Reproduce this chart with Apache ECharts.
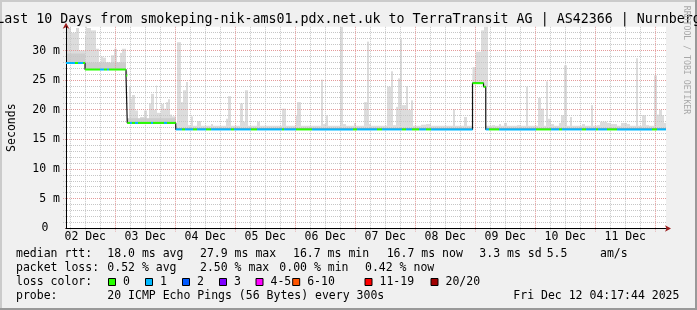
<!DOCTYPE html>
<html><head><meta charset="utf-8">
<script src="https://cdn.jsdelivr.net/npm/echarts@6/dist/echarts.min.js"></script>
<style>html,body{margin:0;padding:0;background:#f0f0f0;}#c{width:697px;height:310px;}</style>
</head><body><div id="c"></div>
<script>
// ---- time range (hours since 02 Dec 00:00) ----
const T0 = 4.2956, T1 = 244.2956;

// ---- x axis labels ----
const dayLabels = ['02 Dec','03 Dec','04 Dec','05 Dec','06 Dec','07 Dec','08 Dec','09 Dec','10 Dec','11 Dec'];
const dayLabelHours = [12, 36, 60, 84, 108, 132, 156, 180, 204, 228];

// ---- median rtt (ms), step segments ----
const medStart = [4.3, 11.9, 28.3, 28.8, 48.2, 166.9, 171.3, 172.2];
const medEnd   = [11.9, 28.3, 28.8, 48.2, 166.9, 171.3, 172.2, 244.3];
const medVal   = [27.9, 26.8, 25.8, 17.8, 16.7, 24.5, 23.9, 16.7];
const hazeTop  = [29.5, 28.0, 26.5, 18.6, 17.3, 26.0, 26.0, 17.3];
const hazeDark = [1, 1, 1, 1, 0, 0, 0, 0];

// ---- packet loss runs along the median (pings lost of 20) ----
const runStart = [4.3,7.9,9.1,11.1,11.9,17.9,19.5,20.7,21.5,28.3,28.8,29.9,30.7,31.9,33.1,38.3,39.1,43.5,44.7,48.2,50.7,51.9,55.1,56.7,60.3,62.3,70.3,71.5,78.3,80.7,90.7,91.5,96.3,102.7,119.1,120.7,128.7,130.7,138.7,140.3,142.7,145.5,148.3,150.3,166.9,171.3,172.2,173.5,177.5,192.3,198.3,201.5,202.7,210.7,212.3,216.3,217.1,220.7,224.7,238.7,240.7];
const runEnd   = [7.9,9.1,11.1,11.9,17.9,19.5,20.7,21.5,28.3,28.8,29.9,30.7,31.9,33.1,38.3,39.1,43.5,44.7,48.2,50.7,51.9,55.1,56.7,60.3,62.3,70.3,71.5,78.3,80.7,90.7,91.5,96.3,102.7,119.1,120.7,128.7,130.7,138.7,140.3,142.7,145.5,148.3,150.3,166.9,171.3,172.2,173.5,177.5,192.3,198.3,201.5,202.7,210.7,212.3,216.3,217.1,220.7,224.7,238.7,240.7,244.3];
const runLoss  = [1,0,1,0,0,1,0,1,0,0,0,1,0,1,0,1,0,1,0,1,0,1,0,1,0,1,0,1,0,1,0,1,0,1,0,1,0,1,0,1,0,1,0,1,0,0,1,0,1,0,1,0,1,0,1,0,1,0,1,0,1];

// ---- smoke (max ping rtt, ms) ----
const smokeStart = [4.3,6.3,8.3,9.5,11.9,12.3,12.7,14.3,16.3,17.5,18.3,19.1,20.3,21.5,22.3,23.5,24.7,25.9,26.7,
  29.5,30.3,30.7,31.9,33.1,33.9,35.5,36.7,37.5,38.3,39.5,40.3,40.7,42.3,43.5,44.3,45.1,45.9,46.7,
  48.7,50.3,51.1,52.3,53.1,54.3,56.7,62.3,68.3,69.1,73.9,75.1,75.9,80.7,90.7,96.3,96.7,106.3,107.1,108.3,113.9,115.1,119.5,
  123.5,124.7,125.5,132.7,134.3,135.1,136.3,137.1,137.9,138.7,140.3,141.1,142.3,146.3,148.3,159.1,163.5,
  166.9,168.3,170.3,171.5,174.7,177.5,179.5,184.7,188.3,193.1,194.3,196.3,197.1,198.3,201.5,202.3,203.5,205.9,
  210.7,214.3,216.7,217.9,220.7,221.9,226.3,228.7,232.3,234.7,236.3,239.5,240.7,241.5,242.7,243.5];
const smokeEnd = [6.3,8.3,9.5,11.9,12.3,12.7,14.3,16.3,17.5,18.3,19.1,20.3,21.5,22.3,23.5,24.7,25.9,26.7,28.3,
  30.3,30.7,31.9,33.1,33.9,35.5,36.7,37.5,38.3,39.5,40.3,40.7,42.3,43.5,44.3,45.1,45.9,46.7,48.2,
  50.3,51.1,52.3,53.1,54.3,55.1,58.3,63.1,69.1,70.3,75.1,75.9,77.1,81.9,92.3,96.7,98.3,107.1,108.3,109.1,115.1,116.3,120.3,
  124.7,125.5,126.3,134.3,135.1,136.3,137.1,137.9,138.7,140.3,141.1,142.3,143.1,148.3,150.3,159.9,164.7,
  168.3,170.3,171.5,173.1,175.9,178.3,180.7,186.3,189.1,194.3,195.5,197.1,198.3,199.5,202.3,203.5,204.7,206.7,
  211.9,215.1,217.9,220.7,221.9,224.7,228.7,229.9,233.1,236.3,237.5,240.7,241.5,242.7,243.5,244.3];
const smokeTop = [33.8,33.0,33.8,30.0,32.5,34.0,33.8,33.4,30.3,28.0,29.0,28.8,28.0,27.7,29.2,30.3,28.0,29.6,30.3,
  23.9,21.9,22.5,19.9,18.5,18.8,19.9,18.5,21.1,22.7,20.0,24.1,19.5,21.0,20.2,21.3,21.8,19.2,18.9,
  31.4,21.3,23.3,24.7,17.4,18.9,18.1,17.6,18.5,22.3,21.1,18.0,23.3,18.0,20.2,19.1,21.3,25.1,17.6,19.1,34.0,17.6,17.8,
  21.3,31.5,17.6,23.9,26.5,17.4,20.5,25.3,31.9,20.8,24.0,20.0,21.6,17.5,17.6,20.1,18.8,
  27.2,29.8,33.4,34.0,17.4,17.6,17.8,17.4,23.9,22.0,20.2,24.8,18.5,17.6,17.8,19.1,27.5,18.8,
  17.6,20.8,17.4,18.0,17.8,17.6,17.8,17.6,28.7,19.1,17.4,25.8,19.2,20.0,19.1,17.8];

// ---- legend / statistics text ----
const statRows = [
  [['median rtt:',16],['18.0 ms avg',107.3],['27.9 ms max',200],['16.7 ms min',293],['16.7 ms now',386.7],['3.3 ms sd',479.3],['5.5',546.7],['am/s',600]],
  [['packet loss:',16],['0.52 % avg',107.3],['2.50 % max',200],['0.00 % min',279.3],['0.42 % now',365]],
  [['loss color:',16]],
  [['probe:',16],['20 ICMP Echo Pings (56 Bytes) every 300s',107.3],['Fri Dec 12 04:17:44 2025',513.3]]
];
const lossLabels = ['0','1','2','3','4-5','6-10','11-19','20/20'];
const lossColors = ['#26ff00','#00b8ff','#0059ff','#7e00ff','#ff00ff','#ff5500','#ff0000','#a00000'];
const lossBoxX   = [108.5,145.5,182.5,219.5,256,292.7,365,431];

const MONO = "'DejaVu Sans Mono', monospace";
const FS = 11.5;
const rowY = [254, 268.5, 282.5, 296.5];

function medianAt(t){
  for (let i = 0; i < medStart.length; i++) if (t >= medStart[i] && t < medEnd[i]) return medVal[i];
  return medVal[medVal.length-1];
}
const smokeData = smokeStart.map((s,i) => [s, smokeEnd[i], medianAt(s+0.01), smokeTop[i]]);
const hazeData = medStart.map((s,i) => [s, medEnd[i], medVal[i], hazeTop[i], hazeDark[i]]);
const runData = runStart.map((s,i) => [s, runEnd[i], medianAt((s+runEnd[i])/2), runLoss[i]]);
const stepData = [];
medStart.forEach((s,i) => { stepData.push([s, medVal[i]]); stepData.push([medEnd[i], medVal[i]]); });

// grid lines: [value, vertical(1)/horizontal(0), major(1)/minor(0)]
const gridData = [];
for (let h = 6; h < T1; h += 6) { if (h > T0) gridData.push([h, 1, h % 24 === 0 ? 1 : 0]); }
for (let v = 1; v <= 33; v++) gridData.push([v, 0, v % 5 === 0 ? 1 : 0]);
gridData.sort((a,b)=>a[2]-b[2]);

const graphics = [
  {type:'rect', shape:{x:0,y:0,width:697,height:2}, style:{fill:'#cbcbcb'}, silent:true},
  {type:'rect', shape:{x:0,y:0,width:2,height:310}, style:{fill:'#cbcbcb'}, silent:true},
  {type:'rect', shape:{x:0,y:308,width:697,height:2}, style:{fill:'#999999'}, silent:true},
  {type:'rect', shape:{x:695,y:0,width:2,height:310}, style:{fill:'#999999'}, silent:true},
  {type:'text', x:348.5, y:19.3, style:{text:'Last 10 Days from smokeping-nik-ams01.pdx.net.uk to TerraTransit AG | AS42366 | Nurnberg', fontFamily:MONO, fontSize:13.3, fill:'#000', align:'center', verticalAlign:'middle'}, silent:true},
  {type:'text', x:686.5, y:60, rotation:-Math.PI/2, style:{text:'RRDTOOL / TOBI OETIKER', fontFamily:MONO, fontSize:8.2, fill:'#a8a8a8', align:'center', verticalAlign:'middle'}, silent:true}
];
statRows.forEach((row, r) => row.forEach(([t, x]) => graphics.push({type:'text', x:x, y:rowY[r], style:{text:t, fontFamily:MONO, fontSize:FS, fill:'#000', align:'left', verticalAlign:'middle'}, silent:true})));
lossLabels.forEach((lab, i) => {
  graphics.push({type:'rect', shape:{x:lossBoxX[i], y:278.5, width:7, height:7}, style:{fill:lossColors[i], stroke:'#000', lineWidth:1}, silent:true});
  graphics.push({type:'text', x:lossBoxX[i]+14.5, y:rowY[2], style:{text:lab, fontFamily:MONO, fontSize:FS, fill:'#000', align:'left', verticalAlign:'middle'}, silent:true});
});

const chart = echarts.init(document.getElementById('c'), null, {renderer:'canvas'});
chart.setOption({
  animation:false,
  backgroundColor:'#f0f0f0',
  grid:{left:66, right:31, top:26.8, bottom:81.5, show:true, backgroundColor:'#ffffff', borderWidth:0, containLabel:false, outerBoundsMode:'none'},
  xAxis:[
    {type:'value', min:T0, max:T1, position:'bottom', z:3,
     axisLine:{show:true, onZero:false, lineStyle:{color:'#000', width:1}},
     axisTick:{show:false}, splitLine:{show:false},
     axisLabel:{show:true, customValues:dayLabelHours, margin:2.5, fontFamily:MONO, fontSize:FS, color:'#000',
       formatter:(v)=>{ const i = dayLabelHours.indexOf(Math.round(v)); return (i>=0 && Math.abs(v-dayLabelHours[i])<0.01) ? dayLabels[i] : ''; }}},
    {type:'value', min:T0, max:T1, position:'bottom', z:2,
     axisLine:{show:true, onZero:false, symbol:['none','arrow'], symbolSize:[5,6], symbolOffset:[0,5], lineStyle:{color:'#9b1c1c', width:1}},
     axisTick:{show:false}, axisLabel:{show:false}, splitLine:{show:false}}
  ],
  yAxis:[
    {type:'value', min:0, max:34, interval:5, position:'left', z:3,
     name:'Seconds', nameLocation:'middle', nameRotate:90, nameGap:48,
     nameTextStyle:{fontFamily:MONO, fontSize:FS, color:'#000'},
     axisLine:{show:true, onZero:false, lineStyle:{color:'#000', width:1}},
     axisTick:{show:false}, splitLine:{show:false},
     axisLabel:{margin:6, fontFamily:MONO, fontSize:FS, color:'#000',
       formatter:(v)=> v > 30.5 ? '' : (v === 0 ? '{z|0}' : v + ' m'),
       rich:{z:{fontFamily:MONO, fontSize:FS, color:'#000', padding:[0,11.5,0,0]}}}},
    {type:'value', min:0, max:34, interval:1, position:'left', z:2,
     axisLine:{show:true, onZero:false, symbol:['none','arrow'], symbolSize:[5,6], symbolOffset:[0,4], lineStyle:{color:'#9b1c1c', width:1}},
     axisTick:{show:false}, axisLabel:{show:false}, splitLine:{show:false}}
  ],
  series:[
    {type:'custom', name:'smoke', z:2, xAxisIndex:0, yAxisIndex:0, data:smokeData, encode:{x:[0,1], y:[2,3]}, silent:true,
     renderItem:(p, api)=>{ const a = api.coord([api.value(0), api.value(3)]), b = api.coord([api.value(1), api.value(2)]);
       return {type:'rect', shape:{x:a[0], y:a[1], width:b[0]-a[0], height:b[1]-a[1]}, style:{fill:'#dcdcdc'}}; }},
    {type:'custom', name:'haze', z:2, xAxisIndex:0, yAxisIndex:0, data:hazeData, encode:{x:[0,1], y:[2,3]}, silent:true,
     renderItem:(p, api)=>{ const a = api.coord([api.value(0), api.value(3)]), b = api.coord([api.value(1), api.value(2)]);
       return {type:'rect', shape:{x:a[0], y:a[1], width:b[0]-a[0], height:b[1]-a[1]}, style:{fill: api.value(4) ? '#cdcdcd' : '#dcdcdc'}}; }},
    {type:'custom', name:'grid', z:3, xAxisIndex:0, yAxisIndex:0, data:gridData, silent:true, clip:false,
     renderItem:(p, api)=>{
       const cs = p.coordSys, v = api.value(0), vert = api.value(1), major = api.value(2);
       const col = major ? '#e49a9a' : '#c6c6c6';
       if (vert) {
         const x = Math.floor(api.coord([v, 0])[0]) + 0.5;
         return {type:'line', shape:{x1:x, y1:cs.y, x2:x, y2:cs.y + cs.height + 3}, style:{stroke:col, lineWidth:1, lineDash:[1,1]}};
       }
       const y = Math.floor(api.coord([T0, v])[1]) + 0.5;
       return {type:'line', shape:{x1:cs.x - 3, y1:y, x2:cs.x + cs.width, y2:y}, style:{stroke:col, lineWidth:1, lineDash:[1,1]}};
     }},
    {type:'line', name:'median', z:4, xAxisIndex:0, yAxisIndex:0, data:stepData, showSymbol:false, symbol:'none', silent:true,
     lineStyle:{color:'#111', width:1.2}},
    {type:'custom', name:'loss', z:5, xAxisIndex:0, yAxisIndex:0, data:runData, encode:{x:[0,1], y:2}, silent:true,
     renderItem:(p, api)=>{ const a = api.coord([api.value(0), api.value(2)]), b = api.coord([api.value(1), api.value(2)]);
       return {type:'rect', shape:{x:a[0], y:a[1]-1, width:b[0]-a[0], height:2}, style:{fill: lossColors[api.value(3)]}}; }}
  ],
  graphic:graphics
});
</script></body></html>
